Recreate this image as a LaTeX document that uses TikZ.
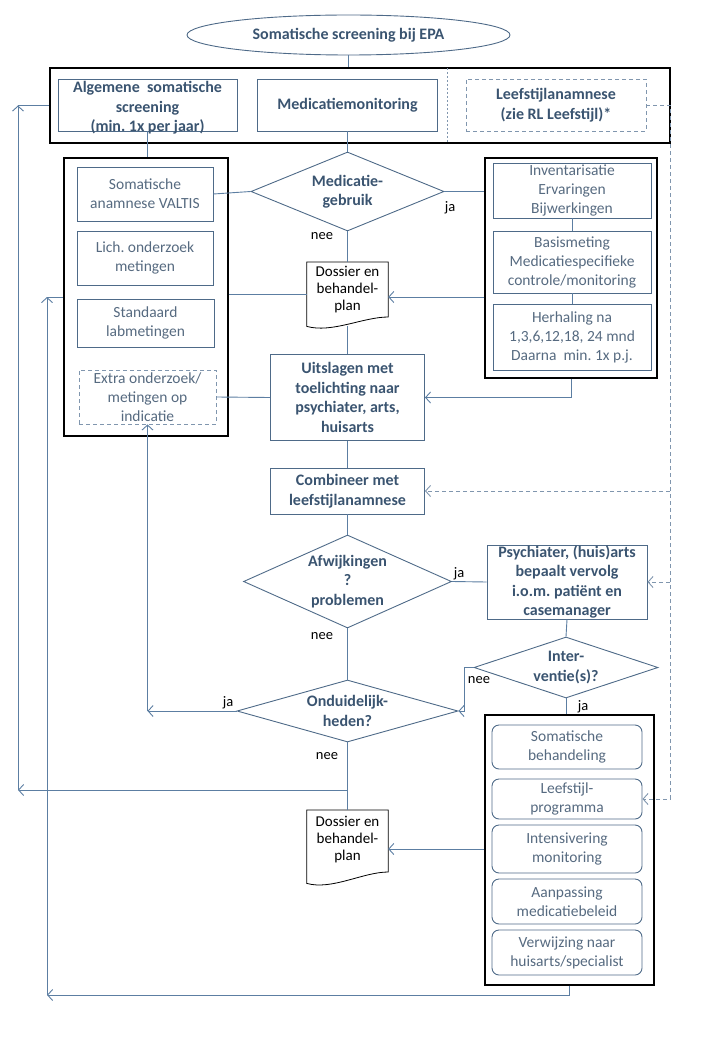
\documentclass[tikz,border=0pt]{standalone}
\usepackage{fontspec}
\setmainfont{Carlito}
\usepackage{tikz}
\usetikzlibrary{arrows.meta, positioning, shapes.geometric, calc}
\definecolor{epatext}{RGB}{58,84,112}
\definecolor{epagrey}{RGB}{86,106,128}
\definecolor{epaedge}{RGB}{78,106,136}
\definecolor{epaline}{RGB}{92,126,162}
\definecolor{epadash}{RGB}{128,150,174}

\begin{document}
\begin{tikzpicture}[
  x=1pt, y=-1pt,
  >={Straight Barb[length=5pt,width=11pt]},
  every node/.style={inner sep=1pt, align=center},
  boldbox/.style={draw=epaedge, line width=0.9pt, text=epatext,
                  font=\bfseries\fontsize{16}{19.5}\selectfont},
  plainbox/.style={draw=epaedge, line width=0.9pt, text=epagrey,
                   font=\fontsize{15.5}{19}\selectfont},
  softbox/.style={plainbox, rounded corners=7pt},
  frame/.style={draw=black, line width=1.2pt},
  decision/.style={diamond, draw=epaedge, line width=0.9pt, text=epatext,
                   inner sep=0pt, font=\bfseries\fontsize{16}{19.5}\selectfont},
  docnode/.style={inner sep=0pt, text=black, font=\fontsize{15}{17}\selectfont},
  line/.style={draw=epaline, line width=0.9pt},
  arrow/.style={line, ->},
  dashline/.style={draw=epadash, line width=0.9pt, dash pattern=on 4pt off 3pt},
  lbl/.style={text=black, font=\fontsize{14.5}{16}\selectfont}
]
\useasboundingbox (0,0) rectangle (720,1040);

%% Start
\node[ellipse, draw=epaedge, line width=0.9pt, text=epatext,
      font=\bfseries\fontsize{16}{19.5}\selectfont,
      minimum width=323, minimum height=40] (start) at (348.5,35)
  {Somatische screening bij EPA};

%% Top row
\node[frame, minimum width=620, minimum height=75] (top) at (360,105.5) {};
\draw[dashline, dash pattern=on 2pt off 2pt] (447,68) -- (447,143);
\node[boldbox, inner sep=0pt, minimum width=179, minimum height=52] (alg) at (147.5,105)
  {\parbox[c][52pt][t]{179pt}{\centering\vspace*{2.5pt}%
   Algemene\ \ somatische\\ screening\\ (min.\ 1x per jaar)}};
\node[boldbox, minimum width=180, minimum height=52] (medmon) at (347.5,105)
  {Medicatiemonitoring};
\node[boldbox, dashline, minimum width=180, minimum height=52] (leef) at (556,105)
  {Leefstijlanamnese\\ (zie RL Leefstijl)*};

%% Left column
\node[frame, minimum width=164, minimum height=278] (left) at (146,297) {};
\node[plainbox, minimum width=136, minimum height=54] (valtis) at (145,194)
  {Somatische\\ anamnese VALTIS};
\node[plainbox, minimum width=136, minimum height=54] (lich) at (145,258)
  {Lich.\ onderzoek\\ metingen};
\node[plainbox, minimum width=137, minimum height=48] (lab) at (145.5,323)
  {Standaard\\ labmetingen};
\node[plainbox, dashline, text=epagrey, minimum width=137, minimum height=54]
  (extra) at (147.5,397) {Extra onderzoek/\\ metingen op\\ indicatie};

%% Medication decision
\node[decision, aspect=2.44, minimum width=193, minimum height=79]
  (medgeb) at (347.5,191.5) {Medicatie-\\ gebruik};

%% Right column
\node[frame, minimum width=172, minimum height=220] (right) at (571,268) {};
\node[plainbox, minimum width=158, minimum height=55] (inv) at (572,190.5)
  {Inventarisatie\\ Ervaringen\\ Bijwerkingen};
\node[plainbox, minimum width=158, minimum height=62] (basis) at (572,262)
  {Basismeting\\ Medicatiespecifieke\\ controle/monitoring};
\node[plainbox, minimum width=158, minimum height=66] (herh) at (572,337)
  {Herhaling na\\ 1,3,6,12,18,\ 24 mnd\\ Daarna\ \ min.\ 1x p.j.};

%% Dossier 1
\node[docnode, minimum width=81, minimum height=64, anchor=north] (dos1) at (347.5,262)
  {\parbox[c][64pt][t]{81pt}{\centering\vspace*{4pt}Dossier en\\ behandel-\\ plan}};
\draw[draw=black, line width=0.8pt]
  (dos1.north west) -- (dos1.north east) -- ++(0,55)
  .. controls +(-25,0) and +(25,7) .. (dos1.south west) -- cycle;

%% Middle column
\node[boldbox, minimum width=154, minimum height=86] (uitsl) at (347.5,397.5)
  {Uitslagen met\\ toelichting naar\\ psychiater, arts,\\ huisarts};
\node[boldbox, minimum width=154, minimum height=46] (comb) at (347.5,491)
  {Combineer met\\ leefstijlanamnese};
\node[decision, aspect=2.3, minimum width=208, minimum height=93]
  (afw) at (347.5,581.5) {Afwijkingen\\ ?\\ problemen};
\node[boldbox, inner ysep=0pt, minimum width=160, minimum height=74] (psych) at (567,582)
  {Psychiater, (huis)arts\\ bepaalt vervolg\\ i.o.m.\ patiënt en\\ casemanager};
\node[decision, aspect=3.0, minimum width=184, minimum height=61]
  (interv) at (566,667.5) {Inter-\\ ventie(s)?};
\node[decision, aspect=3.5, minimum width=221, minimum height=62]
  (ond) at (347.5,711) {Onduidelijk-\\ heden?};

%% Dossier 2
\node[docnode, minimum width=81, minimum height=73, anchor=north] (dos2) at (347.5,810)
  {\parbox[c][73pt][t]{81pt}{\centering\vspace*{6pt}Dossier en\\ behandel-\\ plan}};
\draw[draw=black, line width=0.8pt]
  (dos2.north west) -- (dos2.north east) -- ++(0,62)
  .. controls +(-25,0) and +(25,7) .. (dos2.south west) -- cycle;

%% Interventions
\node[frame, minimum width=169, minimum height=270] (bot) at (569.5,850) {};
\node[softbox, minimum width=150, minimum height=44] (somb) at (567,747)
  {Somatische\\ behandeling};
\node[softbox, minimum width=150, minimum height=40] (leefp) at (567,799)
  {Leefstijl-\\ programma};
\node[softbox, minimum width=150, minimum height=48] (intens) at (567,849)
  {Intensivering\\ monitoring};
\node[softbox, minimum width=150, minimum height=45] (aanp) at (567,901.5)
  {Aanpassing\\ medicatiebeleid};
\node[softbox, minimum width=150, minimum height=45] (verw) at (567,952.5)
  {Verwijzing naar\\ huisarts/specialist};

%% Connectors
\draw[line] (start.south) -- (start.south |- top.north);
\draw[line] (alg.south) -- (alg.south |- left.north);
\draw[line] (medmon.south) -- (medgeb.north);
\draw[line] (valtis.east) -- (medgeb.west);
\draw[line] (medgeb.east) -- (medgeb.east -| right.west);
\node[lbl] (ja1) at (450,208) {ja};
\draw[line] (medgeb.south) -- (dos1.north);
\node[lbl] (nee1) at (322,236) {nee};
\draw[line] (left.east |- dos1.west) -- (dos1.west);
\draw[arrow] (right.west |- 0,297) -- (dos1.east |- 0,297);
\draw[line] (inv.south) -- (basis.north);
\draw[line] (basis.south) -- (herh.north);
\draw[arrow] (right.south) |- (uitsl.east);
\draw[line] (dos1.south) -- (uitsl.north);
\draw[line] (extra.east) -- (uitsl.west);
\draw[line] (uitsl.south) -- (comb.north);
\draw[line] (comb.south) -- (afw.north);
\draw[line] (afw.east) -- (psych.west);
\node[lbl] (ja2) at (459,574) {ja};
\draw[line] (psych.south) -- (interv.north);
\draw[arrow] (interv.west) -- ++(-9,0) |- (ond.east);
\node[lbl] (nee2) at (479,680) {nee};
\draw[line] (interv.south) -- (bot.north -| interv.south);
\node[lbl] (ja3) at (583,707) {ja};
\draw[line] (afw.south) -- (ond.north);
\node[lbl] (nee3) at (322,636) {nee};

\coordinate (cja) at (extra.south |- ond.west);
\draw[arrow] (ond.west) -- (cja);
\draw[arrow] (cja) -- (extra.south);
\node[lbl] (ja4) at (228,703) {ja};

\draw[line] (ond.south) -- (dos2.north);
\node[lbl] (nee4) at (327,756) {nee};

%% Loop back to the top
\coordinate (cnee) at (347.5,790);
\coordinate (loopa) at (18,790);
\coordinate (loopat) at (18,105.5);
\draw[arrow] (cnee) -- (loopa);
\draw[arrow] (loopa) -- (loopat);
\draw[line] (loopat) -- (top.west);

\draw[arrow] (bot.west |- 0,849) -- (dos2.east |- 0,849);

%% Loop back to the left column
\coordinate (loopb) at (47,995);
\coordinate (loopbt) at (47,297);
\draw[arrow] (bot.south) |- (loopb);
\draw[arrow] (loopb) -- (loopbt);
\draw[line] (loopbt) -- (left.west);

%% Lifestyle (dashed)
\coordinate (cdash) at (670,105);
\draw[dashline, ->] (leef.east) -- (cdash) |- (leefp.east);
\draw[dashline, ->] (cdash |- comb.east) -- (comb.east);
\draw[dashline, ->] (cdash |- psych.east) -- (psych.east);

\end{tikzpicture}
\end{document}
